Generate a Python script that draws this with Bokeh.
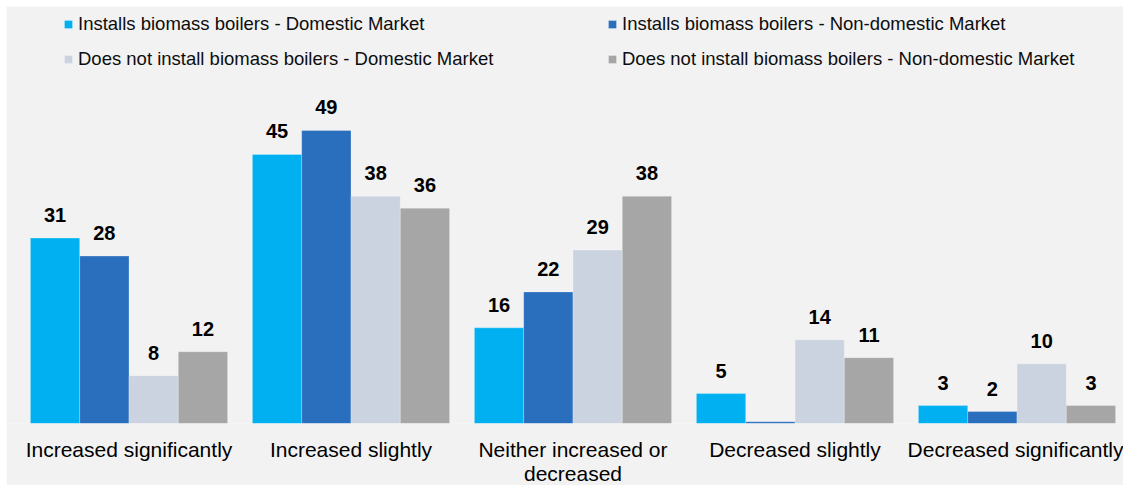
from bokeh.plotting import figure
from bokeh.models import ColumnDataSource, Legend, LegendItem, FixedTicker
from bokeh.transform import dodge
from bokeh.core.properties import value
from bokeh.embed import file_html
from bokeh.resources import INLINE

# ---- data ----
categories = ["Increased significantly", "Increased slightly",
              "Neither increased or decreased", "Decreased slightly",
              "Decreased significantly"]
tick_labels = ["Increased significantly", "Increased slightly",
               "Neither increased or\ndecreased", "Decreased slightly",
               "Decreased significantly"]
series_names = ["Installs biomass boilers - Domestic Market",
                "Installs biomass boilers - Non-domestic Market",
                "Does not install biomass boilers - Domestic Market",
                "Does not install biomass boilers - Non-domestic Market"]
installs_domestic = [31, 45, 16, 5, 3]
installs_nondomestic = [28, 49, 22, 0.3, 2]
notinstall_domestic = [8, 38, 29, 14, 10]
notinstall_nondomestic = [12, 36, 38, 11, 3]
series_values = [installs_domestic, installs_nondomestic,
                 notinstall_domestic, notinstall_nondomestic]
colors = ["#00B0F0", "#2A6EBE", "#CCD3E0", "#A6A6A6"]

FONT = "Liberation Sans"

# ---- layout ----
FRAME_W, FRAME_H = 1117, 417
group_px = 222.0
first_center_px = 122.5  # relative to frame left
bar_w = 49.3 / group_px

p = figure(frame_width=FRAME_W, frame_height=FRAME_H,
           x_range=(-first_center_px / group_px, (FRAME_W - first_center_px) / group_px),
           y_range=(0, FRAME_H / 5.98),
           output_backend="svg", toolbar_location=None,
           min_border_left=0, min_border_right=0, min_border_top=0,
           min_border_bottom=61)
p.margin = (6, 0, 0, 6)
p.background_fill_color = "#F2F2F2"
p.border_fill_color = "#F2F2F2"
p.outline_line_color = None
p.grid.visible = False
p.yaxis.visible = False

xs = list(range(len(categories)))
offsets = [-1.5, -0.5, 0.5, 1.5]
renderers = []
for vals, off, col in zip(series_values, offsets, colors):
    labels = [str(int(round(v))) if round(v) > 0 else "" for v in vals]
    src = ColumnDataSource(dict(x=xs, y=vals, label=labels))
    r = p.vbar(x=dodge("x", off * bar_w, range=p.x_range), top="y", width=bar_w,
               source=src, fill_color=col, line_color="white", line_alpha=0.25,
               line_width=1)
    p.text(x=dodge("x", off * bar_w, range=p.x_range), y="y", text="label",
           source=src, text_align="center", text_baseline="alphabetic",
           y_offset=-23, text_font=value(FONT), text_font_style="bold",
           text_font_size="20px", text_color="#000000")
    renderers.append(r)

ax = p.xaxis[0]
ax.ticker = FixedTicker(ticks=xs)
ax.major_label_overrides = {i: t for i, t in enumerate(tick_labels)}
ax.major_tick_out = 0
ax.major_tick_in = 0
ax.minor_tick_out = 0
ax.minor_tick_in = 0
ax.axis_line_color = None
ax.major_label_standoff = 14
ax.major_label_text_font = FONT
ax.major_label_text_font_size = "21px"
ax.major_label_text_line_height = 1.05
ax.major_label_text_color = "#000000"

def make_legend(idx, loc):
    items = [LegendItem(label=series_names[i], renderers=[renderers[i]]) for i in idx]
    return Legend(items=items, location=loc, orientation="vertical",
                  background_fill_alpha=0, border_line_color=None,
                  padding=0, margin=0, spacing=13,
                  glyph_width=10, glyph_height=10, label_standoff=5,
                  label_height=21,
                  label_text_font=FONT, label_text_font_size="18.5px",
                  label_text_color="#0D0D0D")

p.add_layout(make_legend([0, 2], (57, 353)))
p.add_layout(make_legend([1, 3], (601, 353)))

open("out.html", "w").write(file_html(p, INLINE))
